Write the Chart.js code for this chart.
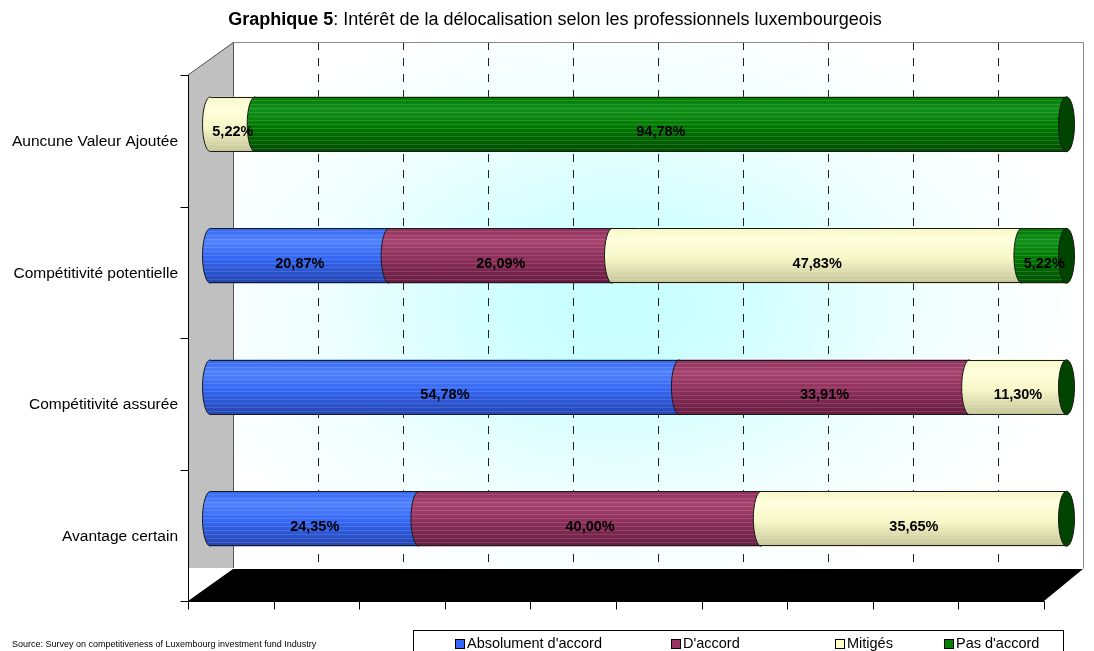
<!DOCTYPE html>
<html>
<head>
<meta charset="utf-8">
<script src="https://cdn.jsdelivr.net/npm/chart.js@4.4.1/dist/chart.umd.min.js"></script>
<style>
  body { margin: 0; background: #fff; }
  canvas { display: block; }
</style>
</head>
<body>
<canvas id="barChart" width="1094" height="651"></canvas>
<script>
var categories = ['Auncune Valeur Ajoutée', 'Compétitivité potentielle', 'Compétitivité assurée', 'Avantage certain'];
var seriesNames = ["Absolument d'accord", "D'accord", 'Mitigés', "Pas d'accord"];
var absolument = [0, 20.87, 54.78, 24.35];
var dAccord = [0, 26.09, 33.91, 40.00];
var mitiges = [5.22, 47.83, 11.30, 35.65];
var pasDAccord = [94.78, 5.22, 0, 0];
var gridSteps = [0, 10, 20, 30, 40, 50, 60, 70, 80, 90, 100];

var FONT = "'Liberation Sans', Arial, sans-serif";
var depth = { dx: 22.5, dy: 16.5, shrink: 6 };
var capRx = 8;
var catPct = 0.418;

// light / mid / dark shades for the cylinder look
var shades = [
    ['#5283ff', '#3366f2', '#2444b0'],
    ['#a8446f', '#8e2f5c', '#661c40'],
    ['#ffffdc', '#f6f6c6', '#c4c498'],
    ['#12911a', '#007800', '#004f00']
];
var flat = ['#3366ff', '#993366', '#ffffcc', '#008000'];

function cylFill(ctx, top, bottom, d) {
    var g = ctx.createLinearGradient(0, top, 0, bottom);
    g.addColorStop(0, shades[d][1]);
    g.addColorStop(0.22, shades[d][0]);
    g.addColorStop(0.55, shades[d][1]);
    g.addColorStop(1, shades[d][2]);
    return g;
}

function barFill(c) {
    var chart = c.chart;
    if (!chart.chartArea || !chart.scales.y) return flat[c.datasetIndex];
    var ys = chart.scales.y;
    var yc = ys.getPixelForValue(c.dataIndex);
    var h = (ys.getPixelForValue(1) - ys.getPixelForValue(0)) * catPct;
    return cylFill(chart.ctx, yc - h / 2, yc + h / 2, c.datasetIndex);
}

function fmt(v) {
    return v.toFixed(2).replace('.', ',') + '%';
}

// x position of a value on the back wall / front plane
function backX(xs, v) {
    return xs.getPixelForValue(v) + depth.dx - depth.shrink * v / 100;
}
function frontX(xs, v) {
    return xs.getPixelForValue(v) - depth.dx;
}

var scene = {
    id: 'scene',
    beforeDatasetsDraw: function (chart) {
        var ctx = chart.ctx, ca = chart.chartArea;
        var xs = chart.scales.x, ys = chart.scales.y;
        var bl = backX(xs, 0), br = backX(xs, 100);
        var bt = ca.top - depth.dy, bb = ca.bottom - depth.dy;
        var fl = frontX(xs, 0), fr = frontX(xs, 100);
        var ft = ca.top + depth.dy, fb = ca.bottom + depth.dy;
        ctx.save();

        // back wall with a soft cyan centre
        var cx = (bl + br) / 2 - 40, cy = (bt + bb) / 2, rx = 460, ry = 300;
        ctx.save();
        ctx.translate(cx, cy);
        ctx.scale(1, ry / rx);
        var g = ctx.createRadialGradient(0, 0, 0, 0, 0, rx);
        g.addColorStop(0, '#c8ffff');
        g.addColorStop(0.2, '#ccffff');
        g.addColorStop(0.65, '#efffff');
        g.addColorStop(1, '#ffffff');
        ctx.fillStyle = g;
        ctx.fillRect(bl - cx, (bt - cy) * rx / ry, br - bl, (bb - bt) * rx / ry);
        ctx.restore();

        // dashed grid on back wall
        ctx.strokeStyle = '#222';
        ctx.lineWidth = 1;
        ctx.setLineDash([8, 8]);
        gridSteps.forEach(function (v) {
            if (v === 0 || v === 100) return;
            var x = Math.round(backX(xs, v)) + 0.5;
            ctx.beginPath();
            ctx.moveTo(x, bt);
            ctx.lineTo(x, bb);
            ctx.stroke();
        });
        ctx.setLineDash([]);

        // back wall border
        ctx.strokeStyle = '#8a8a8a';
        ctx.beginPath();
        ctx.moveTo(Math.round(bl) + 0.5, Math.round(bt) + 0.5);
        ctx.lineTo(Math.round(br) + 0.5, Math.round(bt) + 0.5);
        ctx.lineTo(Math.round(br) + 0.5, Math.round(bb) + 0.5);
        ctx.stroke();

        // left side wall
        ctx.fillStyle = '#c0c0c0';
        ctx.beginPath();
        ctx.moveTo(fl, ft);
        ctx.lineTo(bl, bt);
        ctx.lineTo(bl, bb);
        ctx.lineTo(fl, bb);
        ctx.closePath();
        ctx.fill();
        ctx.strokeStyle = '#555';
        ctx.beginPath();
        ctx.moveTo(fl, ft);
        ctx.lineTo(bl + 0.5, bt + 0.5);
        ctx.lineTo(bl + 0.5, bb);
        ctx.stroke();

        // floor
        ctx.fillStyle = '#000';
        ctx.beginPath();
        ctx.moveTo(fl, fb);
        ctx.lineTo(bl, bb + 1);
        ctx.lineTo(br, bb + 1);
        ctx.lineTo(fr, fb);
        ctx.closePath();
        ctx.fill();

        // front axes
        ctx.strokeStyle = '#000';
        var axX = Math.round(fl) + 0.5, axY = Math.round(fb) + 0.5;
        ctx.beginPath();
        ctx.moveTo(axX, Math.round(ft));
        ctx.lineTo(axX, axY);
        ctx.lineTo(Math.round(fr) + 0.5, axY);
        ctx.stroke();
        var step = (ca.bottom - ca.top) / categories.length;
        for (var i = 0; i <= categories.length; i++) {
            var ty = Math.round(ca.top + i * step + depth.dy) + 0.5;
            ctx.beginPath();
            ctx.moveTo(axX - 8, ty);
            ctx.lineTo(axX, ty);
            ctx.stroke();
        }
        gridSteps.forEach(function (v) {
            var x = Math.round(frontX(xs, v)) + 0.5;
            ctx.beginPath();
            ctx.moveTo(x, axY);
            ctx.lineTo(x, axY + 8);
            ctx.stroke();
        });

        // category labels
        ctx.fillStyle = '#000';
        ctx.font = '15.5px ' + FONT;
        ctx.textAlign = 'right';
        ctx.textBaseline = 'middle';
        categories.forEach(function (c, i) {
            ctx.fillText(c, fl - 10, ys.getPixelForValue(i) + depth.dy + 1);
        });
        ctx.restore();
    },
    afterDatasetsDraw: function (chart) {
        var ctx = chart.ctx, xs = chart.scales.x;
        ctx.save();
        ctx.lineWidth = 1;
        var rows = [];
        chart.data.datasets.forEach(function (ds, d) {
            var meta = chart.getDatasetMeta(d);
            meta.data.forEach(function (el, i) {
                var v = ds.data[i];
                var p = el.getProps(['x', 'y', 'base', 'height'], true);
                var top = p.y - p.height / 2, bot = p.y + p.height / 2;
                rows[i] = { y: p.y, h: p.height, top: top, bot: bot };
                if (!v) return;
                var x0 = Math.min(p.base, p.x), x1 = Math.max(p.base, p.x);
                // left cap of this segment
                ctx.beginPath();
                ctx.ellipse(x0, p.y, capRx, p.height / 2, 0, Math.PI / 2, Math.PI * 1.5);
                ctx.lineTo(x1, top);
                ctx.lineTo(x1, bot);
                ctx.closePath();
                ctx.fillStyle = cylFill(ctx, top, bot, d);
                ctx.fill();
                // faint stripes
                ctx.save();
                ctx.clip();
                ctx.strokeStyle = 'rgba(255,255,255,0.13)';
                for (var s = top + 3; s < bot; s += 4) {
                    ctx.beginPath();
                    ctx.moveTo(x0 - capRx, Math.round(s) + 0.5);
                    ctx.lineTo(x1, Math.round(s) + 0.5);
                    ctx.stroke();
                }
                ctx.restore();
                ctx.strokeStyle = '#1a1a1a';
                ctx.beginPath();
                ctx.ellipse(x0, p.y, capRx, p.height / 2, 0, Math.PI / 2, Math.PI * 1.5);
                ctx.stroke();
            });
        });
        // outline and right end cap
        var xEnd = xs.getPixelForValue(100);
        rows.forEach(function (r, i) {
            var start = null;
            chart.data.datasets.forEach(function (ds, d) {
                if (start === null && ds.data[i]) {
                    start = chart.getDatasetMeta(d).data[i].base;
                }
            });
            ctx.strokeStyle = '#1a1a1a';
            ctx.beginPath();
            ctx.moveTo(start, Math.round(r.top) + 0.5);
            ctx.lineTo(xEnd, Math.round(r.top) + 0.5);
            ctx.moveTo(start, Math.round(r.bot) - 0.5);
            ctx.lineTo(xEnd, Math.round(r.bot) - 0.5);
            ctx.stroke();
            ctx.beginPath();
            ctx.ellipse(xEnd, r.y, capRx, r.h / 2, 0, 0, Math.PI * 2);
            ctx.fillStyle = '#004400';
            ctx.fill();
            ctx.stroke();
        });
        // value labels
        ctx.fillStyle = '#000';
        ctx.font = 'bold 14.5px ' + FONT;
        ctx.textAlign = 'center';
        ctx.textBaseline = 'middle';
        chart.data.datasets.forEach(function (ds, d) {
            chart.getDatasetMeta(d).data.forEach(function (el, i) {
                var v = ds.data[i];
                if (!v) return;
                ctx.fillText(fmt(v), (el.x + el.base) / 2, el.y + 8);
            });
        });
        ctx.restore();
    },
    afterDraw: function (chart) {
        var ctx = chart.ctx;
        ctx.save();
        ctx.fillStyle = '#000';
        ctx.textBaseline = 'middle';
        ctx.textAlign = 'left';
        // title
        var t1 = 'Graphique 5', t2 = ': Intérêt de la délocalisation selon les professionnels luxembourgeois';
        ctx.font = 'bold 18px ' + FONT;
        var w1 = ctx.measureText(t1).width;
        ctx.font = '18px ' + FONT;
        var w2 = ctx.measureText(t2).width;
        var tx = 555 - (w1 + w2) / 2;
        ctx.font = 'bold 18px ' + FONT;
        ctx.fillText(t1, tx, 20);
        ctx.font = '18px ' + FONT;
        ctx.fillText(t2, tx + w1, 20);

        // source
        ctx.font = '9px ' + FONT;
        ctx.fillText('Source: Survey on competitiveness of Luxembourg investment fund Industry', 12, 645);

        // legend
        ctx.strokeStyle = '#000';
        ctx.lineWidth = 1;
        ctx.strokeRect(413.5, 630.5, 650, 40);
        var lx = [455, 671, 835, 944];
        ctx.font = '14.5px ' + FONT;
        seriesNames.forEach(function (n, d) {
            ctx.fillStyle = flat[d];
            ctx.fillRect(lx[d] + 0.5, 639.5, 9, 9);
            ctx.strokeRect(lx[d] + 0.5, 639.5, 9, 9);
            ctx.fillStyle = '#000';
            ctx.fillText(n, lx[d] + 12, 644);
        });
        ctx.restore();
    }
};

var ctx = document.getElementById('barChart').getContext('2d');

var barChart = new Chart(ctx, {
    type: 'bar',
    data: {
        labels: categories,
        datasets: [
            { label: seriesNames[0], data: absolument },
            { label: seriesNames[1], data: dAccord },
            { label: seriesNames[2], data: mitiges },
            { label: seriesNames[3], data: pasDAccord }
        ]
    },
    options: {
        indexAxis: 'y',
        responsive: false,
        animation: false,
        devicePixelRatio: 1,
        events: [],
        layout: { padding: { left: 210.5, right: 27.5, top: 58.5, bottom: 66.5 } },
        datasets: {
            bar: {
                backgroundColor: barFill,
                borderWidth: 0,
                categoryPercentage: catPct,
                barPercentage: 1
            }
        },
        scales: {
            x: { stacked: true, min: 0, max: 100, display: false },
            y: { stacked: true, display: false }
        },
        plugins: {
            legend: { display: false },
            title: { display: false },
            tooltip: { enabled: false }
        }
    },
    plugins: [scene]
});
</script>
</body>
</html>
